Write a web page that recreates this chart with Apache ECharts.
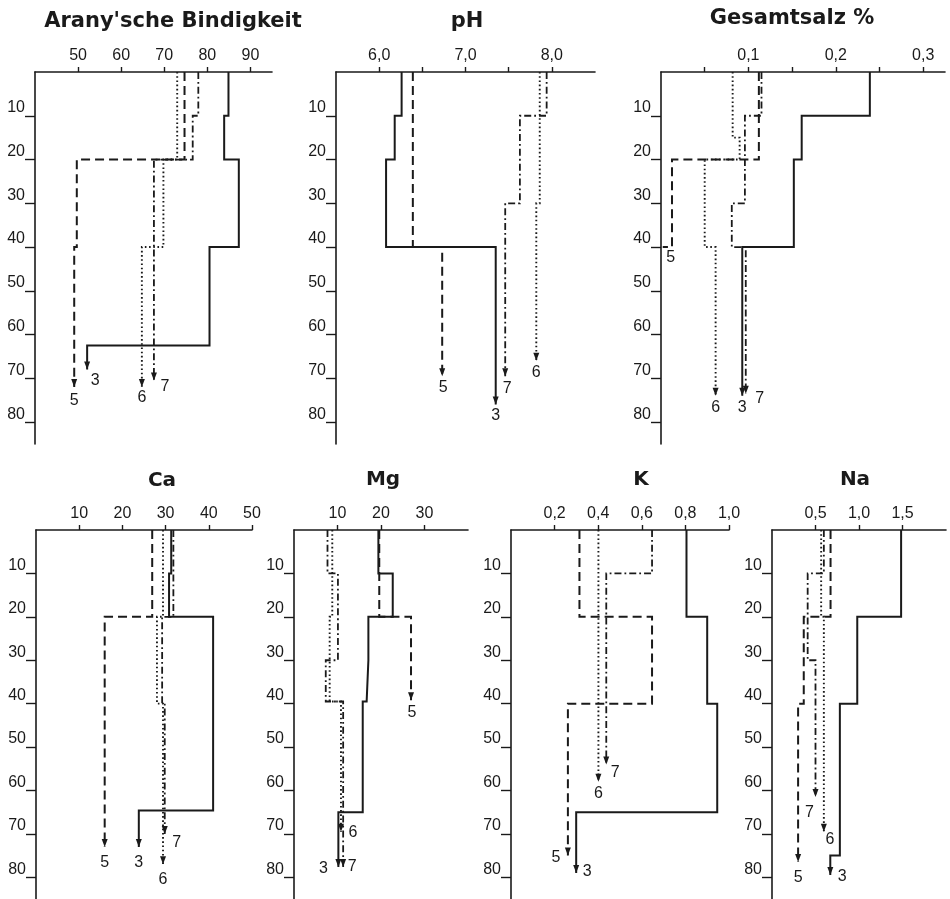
<!DOCTYPE html>
<html><head><meta charset="utf-8">
<script src="https://cdn.jsdelivr.net/npm/echarts@6/dist/echarts.min.js"></script>
<style>html,body{margin:0;padding:0;background:#fff}#c{width:950px;height:899px}</style>
</head><body><div id="c"></div>
<script>
// ---------------- DATA ----------------
const depthTicks = [10, 20, 30, 40, 50, 60, 70, 80];
const profiles = ['3', '5', '6', '7'];

// Arany'sche Bindigkeit
const aranyTicks = [50, 60, 70, 80, 90];
const aranyLabels = [50, 60, 70, 80, 90];
const aranyD3 = [0, 10, 20, 40, 62.5, 68];   const aranyV3 = [84.9, 83.9, 87.3, 80.5, 52.1];
const aranyD5 = [0, 20, 40, 72];             const aranyV5 = [74.7, 49.7, 49.1];
const aranyD6 = [0, 20, 40, 72];             const aranyV6 = [73.0, 69.8, 64.8];
const aranyD7 = [0, 10, 20, 70.5];           const aranyV7 = [77.9, 76.6, 67.6];

// pH
const phTicks = [6.0, 6.5, 7.0, 7.5, 8.0];
const phLabels = [6.0, 7.0, 8.0];
const phD3 = [0, 10, 20, 40, 76];  const phV3 = [6.26, 6.18, 6.08, 7.35];
const phD5 = [0, 40, 69.5];        const phV5 = [6.39, 6.73];
const phD6 = [0, 30, 66];          const phV6 = [7.86, 7.82];
const phD7 = [0, 10, 30, 69.5];    const phV7 = [7.94, 7.63, 7.46];

// Gesamtsalz %
const salzTicks = [0.05, 0.1, 0.15, 0.2, 0.25, 0.3];
const salzLabels = [0.1, 0.2, 0.3];
const salzD3 = [0, 10, 20, 40, 74];     const salzV3 = [0.239, 0.161, 0.152, 0.093];
const salzD5 = [0, 20, 40, 40];         const salzV5 = [0.112, 0.0126, 0.002];
const salzD6 = [0, 15, 20, 40, 74];     const salzV6 = [0.082, 0.090, 0.050, 0.0625];
const salzD7 = [0, 10, 30, 40, 73.5];   const salzV7 = [0.115, 0.096, 0.081, 0.097];

// Ca
const caTicks = [10, 20, 30, 40, 50];
const caLabels = [10, 20, 30, 40, 50];
const caD3 = [0, 10, 20, 64.6, 73];  const caV3 = [31.3, 30.8, 41.0, 23.8];
const caD5 = [0, 20, 73];            const caV5 = [26.9, 15.9];
const caD6 = [0, 20, 40, 77];        const caV6 = [29.4, 28.0, 29.4];
const caD7 = [0, 20, 40, 70];        const caV7 = [31.8, 29.2, 29.8];

// Mg
const mgTicks = [10, 20, 30];
const mgLabels = [10, 20, 30];
const mgD3 = [0, 10, 20, 30, 39.5, 65, 77.6]; const mgV3 = [19.4, 22.7, 17.1, 16.7, 15.8, 10.2];
const mgD5 = [0, 20, 39.2];                   const mgV5 = [19.6, 26.9];
const mgD6 = [0, 20, 39.5, 69.5];             const mgV6 = [8.8, 8.2, 10.8];
const mgD7 = [0, 10, 30, 39.5, 77.6];         const mgV7 = [7.7, 10.1, 7.3, 11.3];

// K
const kTicks = [0.2, 0.4, 0.6, 0.8, 1.0];
const kLabels = [0.2, 0.4, 0.6, 0.8, 1.0];
const kD3 = [0, 20, 40, 65, 79];  const kV3 = [0.805, 0.90, 0.946, 0.299];
const kD5 = [0, 20, 40, 75];      const kV5 = [0.314, 0.647, 0.261];
const kD6 = [0, 58];              const kV6 = [0.401];
const kD7 = [0, 10, 54];          const kV7 = [0.647, 0.437];

// Na
const naTicks = [0.5, 1.0, 1.5];
const naLabels = [0.5, 1.0, 1.5];
const naD3 = [0, 20, 40, 75, 79.5];  const naV3 = [1.484, 0.98, 0.78, 0.67];
const naD5 = [0, 20, 40, 76.5];      const naV5 = [0.673, 0.365, 0.30];
const naD6 = [0, 20, 69.5];          const naV6 = [0.565, 0.596];
const naD7 = [0, 10, 30, 61.5];      const naV7 = [0.596, 0.41, 0.50];

// ---------------- LAYOUT / STYLE ----------------
const FONT_NUM = '"Liberation Sans", Arial, sans-serif';
const FONT_TITLE = '"DejaVu Sans", sans-serif';
const INK = '#1a1a1a';
const NUM_SIZE = 16;

const panels = [
  { title: "Arany'sche Bindigkeit", tx: 173, ty: 22, tsize: 21, grid: {left: 35, top: 72, width: 237, height: 372}, min: 40, max: 95, dec: 0,
    ticks: aranyTicks, labels: aranyLabels, data: {3: [aranyD3, aranyV3], 5: [aranyD5, aranyV5], 6: [aranyD6, aranyV6], 7: [aranyD7, aranyV7]},
    lab: {3: [8, 11], 5: [0, 13], 6: [0, 10], 7: [11, 6]}, noArrow: [] },
  { title: 'pH', tx: 467, ty: 22, tsize: 21, grid: {left: 336, top: 72, width: 259, height: 372}, min: 5.5, max: 8.5, dec: 1,
    ticks: phTicks, labels: phLabels, data: {3: [phD3, phV3], 5: [phD5, phV5], 6: [phD6, phV6], 7: [phD7, phV7]},
    lab: {3: [0, 11], 5: [1, 11], 6: [0, 12], 7: [2, 12]}, noArrow: [] },
  { title: 'Gesamtsalz %', tx: 792, ty: 19, tsize: 21, grid: {left: 661, top: 72, width: 284, height: 372}, min: 0, max: 0.325, dec: 1,
    ticks: salzTicks, labels: salzLabels, data: {3: [salzD3, salzV3], 5: [salzD5, salzV5], 6: [salzD6, salzV6], 7: [salzD7, salzV7]},
    lab: {3: [0, 12], 5: [8, 11], 6: [0, 12], 7: [14, 5]}, noArrow: ['5'] },
  { title: 'Ca', tx: 162, ty: 481, tsize: 20, grid: {left: 36, top: 530, width: 216, height: 369}, min: 0, max: 50, dec: 0,
    ticks: caTicks, labels: caLabels, data: {3: [caD3, caV3], 5: [caD5, caV5], 6: [caD6, caV6], 7: [caD7, caV7]},
    lab: {3: [0, 16], 5: [0, 16], 6: [0, 15], 7: [12, 9]}, noArrow: [] },
  { title: 'Mg', tx: 383, ty: 480, tsize: 20, grid: {left: 294, top: 530, width: 174, height: 369}, min: 0, max: 40, dec: 0,
    ticks: mgTicks, labels: mgLabels, data: {3: [mgD3, mgV3], 5: [mgD5, mgV5], 6: [mgD6, mgV6], 7: [mgD7, mgV7]},
    lab: {3: [-15, 2], 5: [1, 12], 6: [12, 1], 7: [9, 0]}, noArrow: [] },
  { title: 'K', tx: 641, ty: 480, tsize: 20, grid: {left: 511, top: 530, width: 218, height: 369}, min: 0, max: 1.0, dec: 1,
    ticks: kTicks, labels: kLabels, data: {3: [kD3, kV3], 5: [kD5, kV5], 6: [kD6, kV6], 7: [kD7, kV7]},
    lab: {3: [11, -1], 5: [-12, 2], 6: [0, 12], 7: [9, 8]}, noArrow: [] },
  { title: 'Na', tx: 855, ty: 480, tsize: 20, grid: {left: 772, top: 530, width: 174, height: 369}, min: 0, max: 2.0, dec: 1,
    ticks: naTicks, labels: naLabels, data: {3: [naD3, naV3], 5: [naD5, naV5], 6: [naD6, naV6], 7: [naD7, naV7]},
    lab: {3: [12, 1], 5: [0, 15], 6: [6, 8], 7: [-6, 16]}, noArrow: [] }
];

const lineStyles = {
  '3': {type: 'solid', width: 2},
  '5': {type: [9, 5], width: 2},
  '6': {type: [1.6, 2.6], width: 1.9},
  '7': {type: [7, 3, 1.8, 3], width: 1.8}
};

const ARROW = 'path://M0,0L10,0L5,12Z';
const ARROW_H = 8;

function stepPoints(D, V) {
  const pts = [];
  for (let i = 0; i < V.length; i++) {
    pts.push([V[i], D[i]]);
    pts.push([V[i], D[i + 1]]);
  }
  return pts;
}

const grids = [], xAxes = [], yAxes = [], series = [], graphics = [];

panels.forEach((p, gi) => {
  grids.push(Object.assign({containLabel: false}, p.grid));
  const fmt = v => (p.dec ? Number(v).toFixed(p.dec).replace('.', ',') : String(Math.round(v)));
  xAxes.push({
    type: 'value', gridIndex: gi, position: 'top', min: p.min, max: p.max,
    axisLine: {show: true, onZero: false, lineStyle: {color: INK, width: 1.6}},
    axisTick: {show: true, inside: false, length: 5, customValues: p.ticks, lineStyle: {color: INK, width: 1.4}},
    axisLabel: {show: true, customValues: p.labels, formatter: fmt, margin: 8, fontSize: NUM_SIZE, color: INK, fontFamily: FONT_NUM},
    splitLine: {show: false}
  });
  yAxes.push({
    type: 'value', gridIndex: gi, inverse: true, min: 0, max: 85,
    axisLine: {show: true, onZero: false, lineStyle: {color: INK, width: 1.6}},
    axisTick: {show: true, inside: false, length: 10, customValues: depthTicks, lineStyle: {color: INK, width: 1.4}},
    axisLabel: {show: true, customValues: depthTicks, margin: 10, verticalAlign: 'bottom', fontSize: NUM_SIZE, color: INK, fontFamily: FONT_NUM},
    splitLine: {show: false}
  });
  graphics.push({
    type: 'text', x: p.tx, y: p.ty,
    style: {text: p.title, fill: INK, font: 'bold ' + p.tsize + 'px ' + FONT_TITLE, textAlign: 'center', textVerticalAlign: 'middle'}
  });
  profiles.forEach(id => {
    const [D, V] = p.data[id];
    const pts = stepPoints(D, V);
    const noArrow = p.noArrow.indexOf(id) >= 0;
    const off = p.lab[id];
    const data = pts.map((pt, k) => {
      if (k < pts.length - 1) return {value: pt, symbol: 'none'};
      return {
        value: pt,
        symbol: noArrow ? 'rect' : ARROW,
        symbolSize: noArrow ? [0.1, 0.1] : [6, ARROW_H],
        symbolOffset: noArrow ? [0, 0] : [0, -ARROW_H / 2],
        label: {show: true, formatter: id, position: 'inside', offset: [off[0], off[1] + (noArrow ? 0 : ARROW_H / 2)],
                fontSize: NUM_SIZE, color: INK, fontFamily: FONT_NUM, align: 'center', verticalAlign: 'middle'}
      };
    });
    series.push({
      type: 'line', name: p.title + ' ' + id, xAxisIndex: gi, yAxisIndex: gi,
      data: data, symbol: 'none', showSymbol: true, showAllSymbol: true,
      lineStyle: Object.assign({color: INK, cap: 'butt', join: 'miter'}, lineStyles[id]),
      itemStyle: {color: INK}, clip: false, silent: true, animation: false, z: id === '3' ? 3 : 2
    });
  });
});

const chart = echarts.init(document.getElementById('c'), null, {renderer: 'canvas'});
chart.setOption({
  backgroundColor: '#ffffff',
  animation: false,
  grid: grids, xAxis: xAxes, yAxis: yAxes, series: series, graphic: graphics
});
</script>
</body></html>
